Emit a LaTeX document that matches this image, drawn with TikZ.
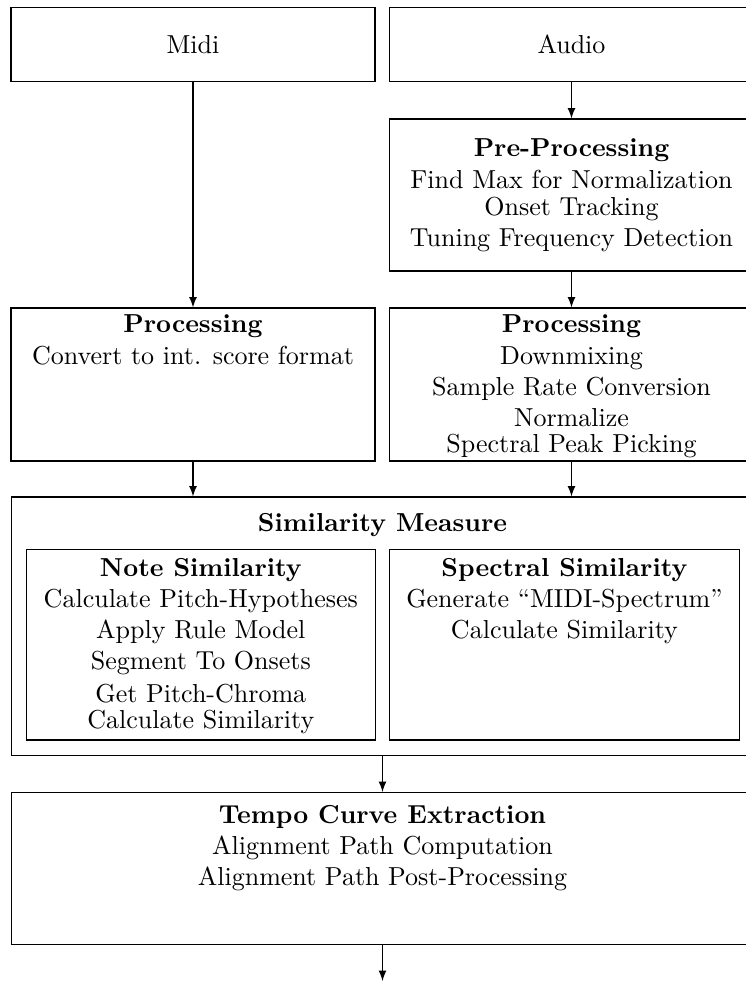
\documentclass[tikz,border=0pt]{standalone}
\usepackage{tikz}
\usetikzlibrary{arrows,positioning,calc}
\begin{document}
\begin{tikzpicture}[
    box/.style={draw, minimum width=4.919cm, minimum height=2.06cm, inner sep=0pt},
    wide/.style={draw, minimum width=10.04cm, inner sep=0pt},
    part/.style={draw, minimum width=4.72cm, minimum height=2.568cm, inner sep=0pt},
    txt/.style={anchor=north, align=center, inner sep=0pt},
    flow/.style={-latex}
]
    \useasboundingbox (0,0) rectangle (10.081,-13.257);

    % Inputs
    \node[box, minimum height=1.006cm] (midi) at (2.608,-0.598) {Midi};
    \node[box, minimum height=1.006cm] (audio) at (7.723,-0.598) {Audio};

    % Pre-processing of the audio
    \node[box, minimum height=2.054cm] (pre) at (7.723,-2.635) {};
    \node[txt] (pretxt) at ($(pre.north)+(0,-0.27)$) {\textbf{Pre-Processing}\\ Find Max for Normalization\\[-1.5pt] Onset Tracking\\ Tuning Frequency Detection};

    % Processing
    \node[box, minimum height=2.068cm] (midiproc) at (2.608,-5.196) {};
    \node[txt] (midiproctxt) at ($(midiproc.north)+(0,-0.095)$) {\textbf{Processing}\\ Convert to int. score format};
    \node[box, minimum height=2.068cm] (audioproc) at (7.723,-5.196) {};
    \node[txt] (audioproctxt) at ($(audioproc.north)+(0,-0.095)$) {\textbf{Processing}\\ Downmixing\\ Sample Rate Conversion\\ Normalize\\[-2pt] Spectral Peak Picking};

    % Similarity measure
    \node[wide, minimum height=3.493cm] (sim) at (5.169,-8.463) {};
    \node[txt] (simtxt) at ($(sim.north)+(0,-0.216)$) {\textbf{Similarity Measure}};
    \node[part] (note) at (2.714,-8.716) {};
    \node[txt] (notetxt) at ($(note.north)+(0,-0.11)$) {\textbf{Note Similarity}\\ Calculate Pitch-Hypotheses\\ Apply Rule Model\\ Segment To Onsets\\[0.5pt] Get Pitch-Chroma\\[-2pt] Calculate Similarity};
    \node[part] (spec) at (7.628,-8.716) {};
    \node[txt] (spectxt) at ($(spec.north)+(0,-0.11)$) {\textbf{Spectral Similarity}\\ Generate “MIDI-Spectrum”\\ Calculate Similarity};

    % Tempo curve
    \node[wide, minimum height=2.054cm] (tempo) at (5.169,-11.736) {};
    \node[txt] (tempotxt) at ($(tempo.north)+(0,-0.169)$) {\textbf{Tempo Curve Extraction}\\ Alignment Path Computation\\ Alignment Path Post-Processing};
    \coordinate (out) at (5.169,-13.257);

    % Connections
    \draw[flow] (midi) -- (midiproc);
    \draw[flow] (audio) -- (pre);
    \draw[flow] (pre) -- (audioproc);
    \draw[flow] (midiproc.south) -- (midiproc.south |- sim.north);
    \draw[flow] (audioproc.south) -- (audioproc.south |- sim.north);
    \draw[flow] (sim) -- (tempo);
    \draw[flow] (tempo) -- (out);
\end{tikzpicture}
\end{document}
